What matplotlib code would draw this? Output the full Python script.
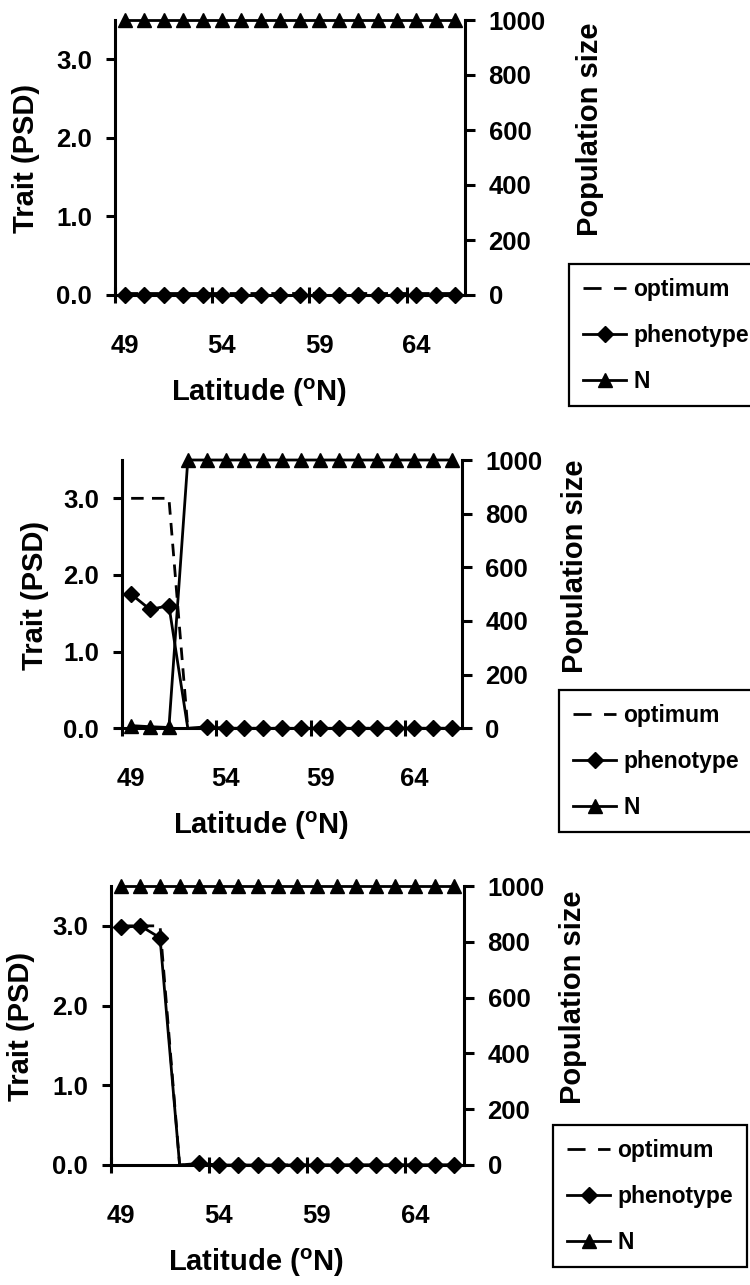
import matplotlib

matplotlib.use("Agg")

import matplotlib.pyplot as plt
from matplotlib.lines import Line2D

plt.rcParams["font.family"] = ["Liberation Sans", "DejaVu Sans"]
plt.rcParams["font.weight"] = "bold"
plt.rcParams["mathtext.fontset"] = "custom"
plt.rcParams["mathtext.bf"] = "Liberation Sans:bold"
plt.rcParams["mathtext.rm"] = "Liberation Sans:bold"

# latitude categories (one point per degree)
latitude = [49, 50, 51, 52, 53, 54, 55, 56, 57, 58, 59, 60, 61, 62, 63, 64, 65, 66]
xtick_labels = [49, 54, 59, 64]
trait_ticks = [0.0, 1.0, 2.0, 3.0]
pop_ticks = [0, 200, 400, 600, 800, 1000]

# panel 1
optimum_a = [0.02, 0.02, 0.02, 0.02, 0.02, 0.02, 0.02, 0.02, 0.02,
             0.02, 0.02, 0.02, 0.02, 0.02, 0.02, 0.02, 0.02, 0.02]
phenotype_a = [0.0, 0.0, 0.0, 0.0, 0.0, 0.0, 0.0, 0.0, 0.0,
               0.0, 0.0, 0.0, 0.0, 0.0, 0.0, 0.0, 0.0, 0.0]
n_a = [1000, 1000, 1000, 1000, 1000, 1000, 1000, 1000, 1000,
       1000, 1000, 1000, 1000, 1000, 1000, 1000, 1000, 1000]

# panel 2
optimum_b = [3.0, 3.0, 3.0, 0.0, 0.0, 0.0, 0.0, 0.0, 0.0,
             0.0, 0.0, 0.0, 0.0, 0.0, 0.0, 0.0, 0.0, 0.0]
phenotype_b = [1.75, 1.55, 1.6, 0.0, 0.02, 0.0, 0.0, 0.0, 0.0,
               0.0, 0.0, 0.0, 0.0, 0.0, 0.0, 0.0, 0.0, 0.0]
n_b = [10, 6, 3, 1000, 1000, 1000, 1000, 1000, 1000,
       1000, 1000, 1000, 1000, 1000, 1000, 1000, 1000, 1000]

# panel 3
optimum_c = [3.0, 3.0, 3.0, 0.0, 0.0, 0.0, 0.0, 0.0, 0.0,
             0.0, 0.0, 0.0, 0.0, 0.0, 0.0, 0.0, 0.0, 0.0]
phenotype_c = [2.98, 3.0, 2.85, 0.0, 0.02, 0.0, 0.0, 0.0, 0.0,
               0.0, 0.0, 0.0, 0.0, 0.0, 0.0, 0.0, 0.0, 0.0]
n_c = [1000, 1000, 1000, 1000, 1000, 1000, 1000, 1000, 1000,
       1000, 1000, 1000, 1000, 1000, 1000, 1000, 1000, 1000]

# points with no phenotype marker drawn
hidden_a = []
hidden_b = [3]
hidden_c = [3]

panels = [
    (optimum_a, phenotype_a, n_a, hidden_a),
    (optimum_b, phenotype_b, n_b, hidden_b),
    (optimum_c, phenotype_c, n_c, hidden_c),
]

W, H = 750, 1285
# axes boxes in pixels: left, top, right, bottom
boxes = [(115, 20, 465, 295), (121.7, 460, 461.7, 728.3), (111, 886, 464, 1165)]
legend_anchor = [(569, 264), (559, 690), (553, 1125)]
right_label_x = [1.357, 1.333, 1.309]

LW = 2.0
SPW = 2.2
DIAMOND = 7.8
TRIANGLE = 10.5
fig = plt.figure(figsize=(W / 100, H / 100), dpi=100)

for (opt, phen, pop, hidden), (l, t, r, b), (lx, ly), rlx in zip(
    panels, boxes, legend_anchor, right_label_x
):
    ax = fig.add_axes([l / W, 1 - b / H, (r - l) / W, (b - t) / H])
    ax2 = ax.twinx()

    marks = [i for i in range(len(latitude)) if i not in hidden]
    ax.plot(latitude, opt, color="black", lw=LW, dashes=[4.5, 3], clip_on=False)
    ax.plot(latitude, phen, color="black", lw=LW, marker="D", ms=DIAMOND,
            markevery=marks, clip_on=False)
    ax2.plot(latitude, pop, color="black", lw=LW, marker="^", ms=TRIANGLE,
             clip_on=False)

    ax.set_xlim(48.5, 66.5)
    ax.set_ylim(0, 3.5)
    ax2.set_ylim(0, 1000)

    ax.set_xticks(xtick_labels)
    ax.set_xticklabels([str(v) for v in xtick_labels])
    ax.set_xticks([48.5, 53.5, 58.5, 63.5], minor=True)
    ax.tick_params(axis="x", which="major", length=0, pad=28, labelsize=18.5)
    ax.tick_params(axis="x", which="minor", direction="inout", length=11, width=SPW)

    ax.set_yticks(trait_ticks)
    ax.set_yticklabels([f"{v:.1f}" for v in trait_ticks])
    ax.tick_params(axis="y", direction="out", length=6.5, width=SPW, pad=10, labelsize=18.5)

    ax2.set_yticks(pop_ticks)
    ax2.tick_params(axis="y", direction="out", length=7, width=SPW, pad=10, labelsize=18.5)

    for s in ["top", "right"]:
        ax.spines[s].set_visible(False)
    for s in ["top", "left", "bottom"]:
        ax2.spines[s].set_visible(False)
    for sp in [ax.spines["left"], ax.spines["bottom"], ax2.spines["right"]]:
        sp.set_linewidth(SPW)

    ax.set_xlabel(r"Latitude ($^{\mathbf{o}}$N)", fontsize=21, fontweight="bold")
    ax.xaxis.label.set_va("center")
    ax.xaxis.set_label_coords(0.41, -98 / (b - t))
    ax.set_ylabel("Trait (PSD)", fontsize=21, fontweight="bold")
    ax.yaxis.label.set_va("center")
    ax.yaxis.set_label_coords(-0.255, 0.495)
    ax2.set_ylabel("Population size", fontsize=21, fontweight="bold")
    ax2.yaxis.label.set_va("center")
    ax2.yaxis.set_label_coords(rlx, 0.603)

    handles = [
        Line2D([], [], color="black", lw=LW, dashes=[6.5, 4.5]),
        Line2D([], [], color="black", lw=LW, marker="D", ms=DIAMOND),
        Line2D([], [], color="black", lw=LW, marker="^", ms=TRIANGLE),
    ]
    leg = fig.legend(
        handles,
        ["optimum", "phenotype", "N"],
        loc="upper left",
        bbox_to_anchor=(lx / W, 1 - ly / H),
        bbox_transform=fig.transFigure,
        fancybox=False,
        edgecolor="black",
        framealpha=1,
        fontsize=16.5,
        handlelength=1.9,
        handletextpad=0.3,
        labelspacing=1.0,
        borderpad=0.6,
        borderaxespad=0,
    )
    leg.get_frame().set_linewidth(1.6)

fig.savefig("out.png", dpi=100)
